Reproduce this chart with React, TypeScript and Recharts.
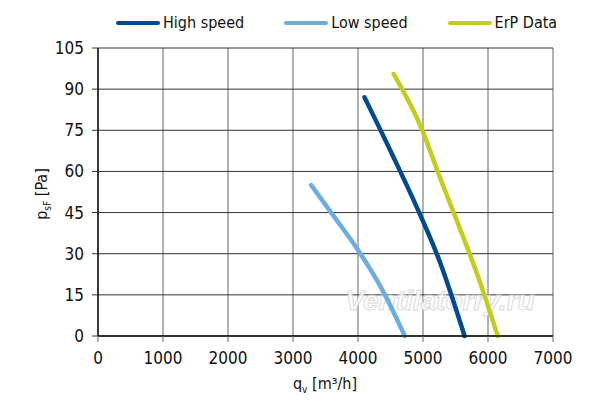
import { LineChart, Line, XAxis, YAxis, CartesianGrid, Legend, Customized } from 'recharts'

// fan curves, q_v [m³/h] vs p_sF [Pa]
const highSpeed = [
  { q: 4100, p: 87 },
  { q: 4530, p: 66 },
  { q: 4960, p: 44 },
  { q: 5260, p: 27 },
  { q: 5640, p: 0 },
]

const lowSpeed = [
  { q: 3280, p: 55 },
  { q: 3650, p: 43 },
  { q: 4010, p: 31 },
  { q: 4370, p: 17 },
  { q: 4720, p: 0 },
]

const erpData = [
  { q: 4550, p: 95.5 },
  { q: 4990, p: 75 },
  { q: 5210, p: 61 },
  { q: 5930, p: 16 },
  { q: 6150, p: 0 },
]

const xTicks = [0, 1000, 2000, 3000, 4000, 5000, 6000, 7000]
const yTicks = [0, 15, 30, 45, 60, 75, 90, 105]

const series = [
  { name: 'High speed', color: '#004a8f' },
  { name: 'Low speed', color: '#6caee0' },
  { name: 'ErP Data', color: '#c3cd1c' },
]

const font = '"DejaVu Sans Condensed", "Liberation Sans Narrow", "Roboto", sans-serif'
const stretch = 'condensed'

const LegendBox = () => (
  <div style={{ display: 'flex', paddingLeft: 116, fontFamily: font, fontStretch: stretch, fontSize: 16, color: '#111' }}>
    {series.map((s, i) => (
      <div key={s.name} style={{ display: 'flex', alignItems: 'center', marginLeft: i ? 40 : 0 }}>
        <span style={{ display: 'inline-block', width: 44, height: 4, borderRadius: 2, background: s.color, marginRight: 3 }} />
        <span>{s.name}</span>
      </div>
    ))}
  </div>
)

const AxisTitles = () => (
  <g fontFamily={font} style={{ fontStretch: stretch }} fill="#111" fontSize={16}>
    <text x={325} y={389} textAnchor="middle">
      q<tspan fontSize={10} dy={4}>v</tspan>
      <tspan dy={-4}> [m³/h]</tspan>
    </text>
    <text x={0} y={0} textAnchor="middle" transform="translate(47 194) rotate(-90)">
      p<tspan fontSize={10} dy={4}>sF</tspan>
      <tspan dy={-4}> [Pa]</tspan>
    </text>
  </g>
)

const Watermark = () => (
  <text
    x={440}
    y={310}
    textAnchor="middle"
    fontFamily='"Liberation Sans", sans-serif'
    fontStyle="italic"
    fontWeight={700}
    fontSize={28}
    fill="#ffffff"
    stroke="#d4d4d4"
    strokeWidth={1}
    opacity={0.85}
  >
    Ventilatorry.ru
  </text>
)

export default function App() {
  return (
    <div style={{ position: 'absolute', left: 0, top: 0, background: '#fff' }}>
      <LineChart width={600} height={405} margin={{ top: 48, right: 47, left: 38, bottom: 29 }}>
        <CartesianGrid stroke="#999" strokeWidth={1.5} horizontal={false} />
        <CartesianGrid stroke="#333" strokeWidth={1} vertical={false} />
        <XAxis
          type="number"
          dataKey="q"
          domain={[0, 7000]}
          ticks={xTicks}
          interval={0}
          allowDuplicatedCategory={false}
          tick={{ fill: '#111', fontSize: 17, fontFamily: font, style: { fontStretch: stretch } }}
          tickSize={6}
          tickMargin={10}
          axisLine={{ stroke: '#111', strokeWidth: 1.5 }}
          tickLine={{ stroke: '#666' }}
          height={40}
        />
        <YAxis
          type="number"
          dataKey="p"
          domain={[0, 105]}
          ticks={yTicks}
          interval={0}
          tick={{ fill: '#111', fontSize: 17, fontFamily: font, style: { fontStretch: stretch } }}
          tickSize={6}
          tickMargin={8}
          axisLine={{ stroke: '#111', strokeWidth: 1.5 }}
          tickLine={{ stroke: '#333' }}
          width={60}
        />
        <Legend
          verticalAlign="middle"
          align="center"
          layout="horizontal"
          content={<LegendBox />}
          wrapperStyle={{ top: 13, left: 0, width: 600 }}
        />
        <Customized component={AxisTitles} />
        <Customized component={Watermark} />
        <Line
          data={highSpeed}
          dataKey="p"
          name="High speed"
          type="monotone"
          stroke={series[0].color}
          strokeWidth={4.5}
          strokeLinecap="round"
          dot={false}
          isAnimationActive={false}
        />
        <Line
          data={lowSpeed}
          dataKey="p"
          name="Low speed"
          type="monotone"
          stroke={series[1].color}
          strokeWidth={4.5}
          strokeLinecap="round"
          dot={false}
          isAnimationActive={false}
        />
        <Line
          data={erpData}
          dataKey="p"
          name="ErP Data"
          type="monotone"
          stroke={series[2].color}
          strokeWidth={4.5}
          strokeLinecap="round"
          dot={false}
          isAnimationActive={false}
        />
      </LineChart>
    </div>
  )
}
